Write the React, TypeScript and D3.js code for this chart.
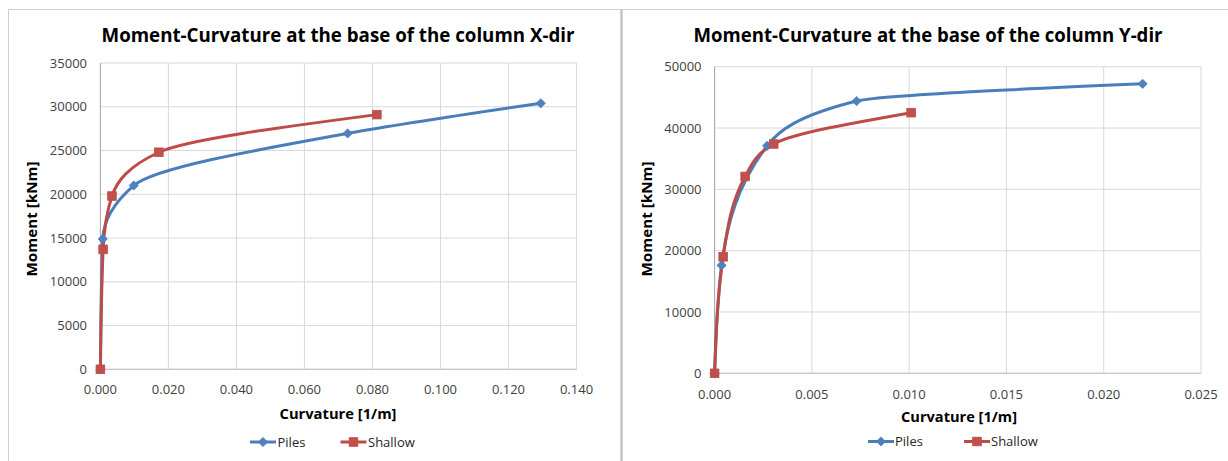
import React from "react";
import * as d3 from "d3";

// ---- data ----
const xDirPilesCurvature = [0, 0.0007, 0.0098, 0.0727, 0.1295];
const xDirPilesMoment = [0, 14900, 21000, 26950, 30400];
const xDirShallowCurvature = [0, 0.0008, 0.0034, 0.0172, 0.0813];
const xDirShallowMoment = [0, 13700, 19800, 24800, 29100];

const yDirPilesCurvature = [0, 0.00036, 0.0027, 0.0073, 0.022];
const yDirPilesMoment = [0, 17600, 37100, 44400, 47200];
const yDirShallowCurvature = [0, 0.00044, 0.00157, 0.00304, 0.0101];
const yDirShallowMoment = [0, 19000, 32100, 37400, 42500];

const xDirCurvatureTicks = [0, 0.02, 0.04, 0.06, 0.08, 0.1, 0.12, 0.14];
const xDirMomentTicks = [0, 5000, 10000, 15000, 20000, 25000, 30000, 35000];
const yDirCurvatureTicks = [0, 0.005, 0.01, 0.015, 0.02, 0.025];
const yDirMomentTicks = [0, 10000, 20000, 30000, 40000, 50000];

const seriesNames = ["Piles", "Shallow"];
const titles = [
  "Moment-Curvature at the base of the column X-dir",
  "Moment-Curvature at the base of the column Y-dir",
];
const xAxisTitle = "Curvature [1/m]";
const yAxisTitle = "Moment [kNm]";

const BLUE = "#4A7EBB";
const BLUE_FILL = "#4F81BD";
const RED = "#BE4B48";
const RED_FILL = "#C0504D";
const FONT = "'Open Sans', 'Liberation Sans', sans-serif";

type Layout = {
  px0: number; px1: number; py0: number; py1: number;
  titleX: number; titleY: number; titleLen: number;
  xtX: number; xtY: number; xtLen: number;
  ytX: number; ytY: number; ytLen: number;
  yTickRight: number; xTickY: number;
  legendY: number; leg: [number, number, number, number];
};

const diamond = (r: number) => `M0,${-r}L${r},0L0,${r}L${-r},0Z`;

function Marker({ kind, x, y }: { kind: number; x: number; y: number }) {
  if (kind === 0)
    return <path d={diamond(4.6)} transform={`translate(${x},${y})`} fill={BLUE_FILL} stroke={BLUE} strokeWidth={0.8} />;
  return <rect x={x - 4.3} y={y - 4.3} width={8.6} height={8.6} fill={RED_FILL} stroke={RED} strokeWidth={0.8} />;
}

function Chart({
  L, xDomain, yDomain, xTicks, yTicks, xFmt, series, title,
}: {
  L: Layout; xDomain: [number, number]; yDomain: [number, number];
  xTicks: number[]; yTicks: number[]; xFmt: (v: number) => string;
  series: { xs: number[]; ys: number[] }[]; title: string;
}) {
  const x = d3.scaleLinear().domain(xDomain).range([L.px0, L.px1]);
  const y = d3.scaleLinear().domain(yDomain).range([L.py1, L.py0]);
  const line = d3
    .line<[number, number]>()
    .x((d) => x(d[0]))
    .y((d) => y(d[1]))
    .curve(d3.curveMonotoneY);
  const colors = [BLUE, RED];
  return (
    <g>
      {yTicks.map((t) => (
        <line key={"gy" + t} x1={L.px0} x2={L.px1} y1={y(t)} y2={y(t)} stroke="#D9D9D9" strokeWidth={1} />
      ))}
      {xTicks.map((t) => (
        <line key={"gx" + t} x1={x(t)} x2={x(t)} y1={L.py0} y2={L.py1} stroke="#D9D9D9" strokeWidth={1} />
      ))}
      <line x1={L.px0} x2={L.px0} y1={L.py0} y2={L.py1} stroke="#A6A6A6" strokeWidth={1} />
      <line x1={L.px0} x2={L.px1} y1={L.py1} y2={L.py1} stroke="#BFBFBF" strokeWidth={1} />
      {yTicks.map((t) => (
        <text key={"ly" + t} x={L.yTickRight} y={y(t)} dy="0.35em" textAnchor="end" fontFamily={FONT} fontSize={13} fill="#404040">
          {String(t)}
        </text>
      ))}
      {xTicks.map((t) => (
        <text key={"lx" + t} x={x(t)} y={L.xTickY} dy="0.35em" textAnchor="middle" fontFamily={FONT} fontSize={13} fill="#404040">
          {xFmt(t)}
        </text>
      ))}
      {series.map((s, i) => {
        const pts: [number, number][] = s.xs.map((v, k) => [v, s.ys[k]]);
        return (
          <path key={"s" + i} d={line(pts) || ""} fill="none" stroke={colors[i]} strokeWidth={3} strokeLinejoin="round" strokeLinecap="round" />
        );
      })}
      {series.map((s, i) => (
        <g key={"m" + i}>
          {s.xs.map((v, k) => (
            <Marker key={k} kind={i} x={x(v)} y={y(s.ys[k])} />
          ))}
        </g>
      ))}
      <text x={L.titleX} y={L.titleY} textAnchor="middle" fontFamily={FONT} fontWeight="bold" fontSize={19} fill="#000" textLength={L.titleLen} lengthAdjust="spacingAndGlyphs">
        {title}
      </text>
      <text x={L.xtX} y={L.xtY} textAnchor="middle" fontFamily={FONT} fontWeight="bold" fontSize={15} fill="#000" textLength={L.xtLen} lengthAdjust="spacingAndGlyphs">
        {xAxisTitle}
      </text>
      <text transform={`translate(${L.ytX},${L.ytY}) rotate(-90)`} textAnchor="middle" fontFamily={FONT} fontWeight="bold" fontSize={15} fill="#000" textLength={L.ytLen} lengthAdjust="spacingAndGlyphs">
        {yAxisTitle}
      </text>
      {seriesNames.map((n, i) => {
        const x0 = L.leg[i * 2];
        const tx = L.leg[i * 2 + 1];
        return (
          <g key={"lg" + i}>
            <line x1={x0} x2={x0 + 26} y1={L.legendY} y2={L.legendY} stroke={colors[i]} strokeWidth={3} />
            <Marker kind={i} x={x0 + 13} y={L.legendY} />
            <text x={tx} y={L.legendY} dy="0.35em" fontFamily={FONT} fontSize={13} fill="#262626">
              {n}
            </text>
          </g>
        );
      })}
    </g>
  );
}

const leftLayout: Layout = {
  px0: 100.4, px1: 576.5, py0: 63, py1: 369.3,
  titleX: 338, titleY: 42, titleLen: 473,
  xtX: 338, xtY: 419, xtLen: 117,
  ytX: 37, ytY: 219, ytLen: 115,
  yTickRight: 87, xTickY: 389,
  legendY: 442, leg: [250, 277.5, 340.5, 368],
};

const rightLayout: Layout = {
  px0: 714.6, px1: 1201, py0: 66.7, py1: 373.3,
  titleX: 928, titleY: 42, titleLen: 469,
  xtX: 959, xtY: 422, xtLen: 116,
  ytX: 652, ytY: 219, ytLen: 115,
  yTickRight: 701.5, xTickY: 394,
  legendY: 441.5, leg: [868, 895, 964, 991],
};

export default function App() {
  return (
    <svg width={1228} height={461} style={{ position: "absolute", left: 0, top: 0, background: "#fff" }}>
      <rect x={0} y={0} width={1228} height={461} fill="#fff" />
      <line x1={8} x2={1228} y1={9.5} y2={9.5} stroke="#D0D0D0" strokeWidth={1} />
      <line x1={8.5} x2={8.5} y1={9.5} y2={461} stroke="#D0D0D0" strokeWidth={1} />
      <line x1={621.5} x2={621.5} y1={9.5} y2={461} stroke="#C4C4C4" strokeWidth={2.5} />
      <Chart
        L={leftLayout}
        xDomain={[0, 0.14]}
        yDomain={[0, 35000]}
        xTicks={xDirCurvatureTicks}
        yTicks={xDirMomentTicks}
        xFmt={d3.format(".3f")}
        series={[
          { xs: xDirPilesCurvature, ys: xDirPilesMoment },
          { xs: xDirShallowCurvature, ys: xDirShallowMoment },
        ]}
        title={titles[0]}
      />
      <Chart
        L={rightLayout}
        xDomain={[0, 0.025]}
        yDomain={[0, 50000]}
        xTicks={yDirCurvatureTicks}
        yTicks={yDirMomentTicks}
        xFmt={d3.format(".3f")}
        series={[
          { xs: yDirPilesCurvature, ys: yDirPilesMoment },
          { xs: yDirShallowCurvature, ys: yDirShallowMoment },
        ]}
        title={titles[1]}
      />
    </svg>
  );
}
